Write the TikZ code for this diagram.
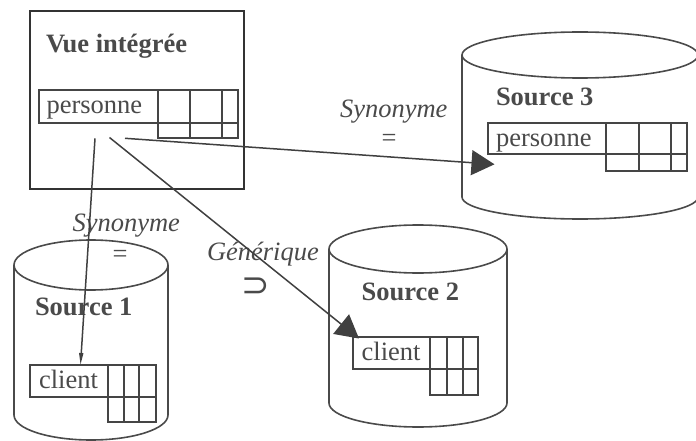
\documentclass[tikz,border=0pt]{standalone}
\usepackage{fontspec}
\setmainfont{Liberation Serif}
\newfontfamily\dejasym{DejaVu Sans}
\usetikzlibrary{arrows.meta}
\definecolor{tcol}{HTML}{4A4A4A}
\definecolor{lcol}{HTML}{454545}
\definecolor{ccol}{HTML}{4A4A4A}
\definecolor{acol}{HTML}{404040}
\definecolor{bcol}{HTML}{333333}
\begin{document}
\begin{tikzpicture}[x=1pt,y=-1pt,
  txt/.style={inner sep=0pt, outer sep=0pt, text=tcol, font=\fontsize{26.5}{30}\selectfont},
  ttl/.style={txt, font=\fontsize{26.5}{30}\selectfont\bfseries},
  lbl/.style={txt, font=\fontsize{26.5}{30}\selectfont\itshape},
  tbl/.style={draw=lcol, line width=2pt},
  cyl/.style={draw=ccol, line width=1.6pt},
  bigarr/.style={draw=acol, line width=1.5pt, -{Triangle[length=23pt,width=25pt]}},
  thinarr/.style={draw=acol, line width=1.5pt, -{Triangle[length=12pt,width=4pt]}}]
\fill[white] (0,0) rectangle (696,441);
\useasboundingbox (0,0) rectangle (696,441);
\clip (0,0) rectangle (696,441);

% Vue integree box
\draw[draw=bcol, line width=2.5pt] (30,11) rectangle (244,189);
\node[ttl, anchor=base west] (vue) at (46,52.7) {Vue intégrée};
\draw[tbl] (39,90) rectangle (238,123);
\draw[tbl] (158,90) -- (158,138) -- (238,138) -- (238,123);
\draw[tbl] (190,90) -- (190,138);
\draw[tbl] (222,90) -- (222,138);
\node[txt, anchor=base west] (pv) at (46.5,113.3) {personne};

% Source 3
\draw[cyl] (580,55) ellipse [x radius=118pt, y radius=23pt];
\draw[cyl] (462,55) -- (462,197) arc[start angle=180, end angle=360, x radius=118pt, y radius=22pt] -- (698,55);
\node[ttl, anchor=base west] (src3) at (496,105.5) {Source 3};
\draw[tbl] (488,123) rectangle (687,154);
\draw[tbl] (606,123) -- (606,171) -- (687,171) -- (687,154);
\draw[tbl] (638.7,123) -- (638.7,171);
\draw[tbl] (670.7,123) -- (670.7,171);
\node[txt, anchor=base west] (p3) at (496,146.7) {personne};

% Source 1
\draw[cyl] (91,265) ellipse [x radius=77pt, y radius=25pt];
\draw[cyl] (14,265) -- (14,415) arc[start angle=180, end angle=360, x radius=77pt, y radius=25pt] -- (168,265);
\node[ttl, anchor=base west] (src1) at (35,315) {Source 1};
\draw[tbl] (30,364.5) rectangle (155.5,396.7);
\draw[tbl] (107.7,364.5) -- (107.7,421.7) -- (155.5,421.7) -- (155.5,396.7);
\draw[tbl] (123.5,364.5) -- (123.5,421.7);
\draw[tbl] (139.3,364.5) -- (139.3,421.7);
\node[txt, anchor=base west] (c1) at (39,388.3) {client};

% Source 2
\draw[cyl] (418,249) ellipse [x radius=89pt, y radius=24pt];
\draw[cyl] (329,249) -- (329,403) arc[start angle=180, end angle=360, x radius=89pt, y radius=24pt] -- (507,249);
\node[ttl, anchor=base west] (src2) at (361.7,300) {Source 2};
\draw[tbl] (352.7,337.3) rectangle (478.3,369.3);
\draw[tbl] (430,337.3) -- (430,395) -- (478.3,395) -- (478.3,369.3);
\draw[tbl] (446.7,337.3) -- (446.7,395);
\draw[tbl] (462.7,337.3) -- (462.7,395);
\node[txt, anchor=base west] (c2) at (361.7,360.7) {client};

% labels
\node[lbl, anchor=base west] (syn3) at (340,117.3) {Synonyme};
\node[txt] (eq3) at (389,140.5) {=};
\node[lbl, anchor=base west] (syn1) at (72.5,231.7) {Synonyme};
\node[txt] (eq1) at (120,256) {=};
\node[lbl, anchor=base west] (gen) at (207,260.7) {Générique};
\node[txt, font=\dejasym\fontsize{34}{38}\selectfont] (sup) at (256.2,287.5) {⊃};

% arrows
\coordinate (s1) at (95,138.3);
\coordinate (t1) at (80.5,365);
\coordinate (s2) at (109.5,137.5);
\coordinate (t2) at (359,338.5);
\coordinate (s3) at (125,138.3);
\coordinate (t3) at (494.5,164.3);
\draw[thinarr] (s1) -- (t1);
\draw[bigarr] (s2) -- (t2);
\draw[bigarr] (s3) -- (t3);
\end{tikzpicture}
\end{document}
